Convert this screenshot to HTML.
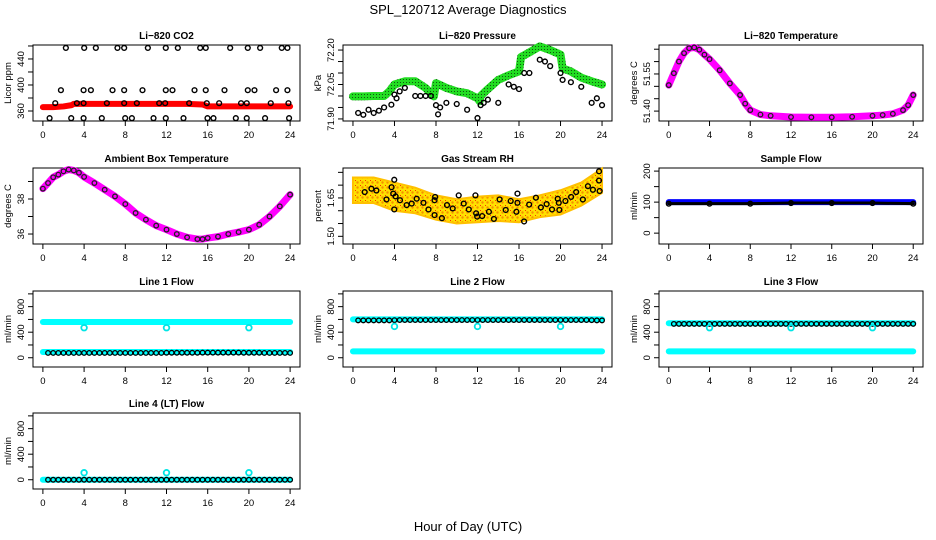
<!DOCTYPE html>
<html><head><meta charset="utf-8">
<style>
body{margin:0;background:#fff;}
svg{display:block;font-family:"Liberation Sans",sans-serif;}
</style></head>
<body>
<svg id="chart" width="936" height="540" viewBox="0 0 936 540" xmlns="http://www.w3.org/2000/svg">
<defs>
<pattern id="rhpat" width="5" height="5" patternUnits="userSpaceOnUse">
<rect width="5" height="5" fill="#ffe000"/><circle cx="2.5" cy="2.5" r="1.2" fill="#f59000"/><rect x="0" y="0" width="1" height="1" fill="#ff3000"/>
</pattern>
<pattern id="grpat" width="3" height="3" patternUnits="userSpaceOnUse">
<rect width="3" height="3" fill="#22dd22"/><rect x="1" y="1" width="1" height="1" fill="#115511"/>
</pattern>
</defs>
<text x="468" y="14" text-anchor="middle" font-size="13">SPL_120712  Average Diagnostics</text>
<text x="468" y="531" text-anchor="middle" font-size="13">Hour of Day (UTC)</text>
</svg>
<script>
// ---- data ----
const xTicks = [0,4,8,12,16,20,24];
// CO2
const co2RedHours = [0,1,2,2.8,3,4,6,8,10,12,14,15.5,16,18,20,22,24];
const co2RedVals  = [366,366,367,369,371,371,371,371,371,371,371,370,367,367,367,367,367];
const co2HiHours  = [2.23,4.01,5.14,7.24,7.89,10.19,11.93,13.1,15.27,15.81,18.18,19.89,21.09,23.19,23.74];
const co2HiVals   = [457,457,457,457,457,457,457,457,457,457,457,457,457,457,457];
const co2MidHours = [1.75,3.95,4.66,6.76,7.89,9.67,11.93,12.58,14.72,15.81,17.63,19.89,20.54,22.64,23.74];
const co2MidVals  = [392,392,392,392,392,392,392,392,392,392,392,392,392,392,392];
const co2LowHours = [1.2,3.3,3.95,6.21,7.89,9.12,11.29,11.87,14.2,15.91,17.11,19.24,19.79,22.12,23.84];
const co2LowVals  = [372,372,372,372,372,372,372,372,372,372,372,372,372,372,372];
const co2BotHours = [0.65,2.75,3.95,5.72,7.99,8.64,10.74,11.93,13.65,15.98,16.56,18.73,19.79,21.57,23.9];
const co2BotVals  = [349,349,349,349,349,349,349,349,349,349,349,349,349,349,349];
// Pressure
const prGreenHours = [0,1,2,3,3.5,4,5,6,7,7.8,8,9,10,11,12,12.2,12.3,13,14,15,16,16.2,17,18,19,20,20.2,21,22,23,24];
const prGreenVals  = [71.998,71.998,72.0,72.0,72.02,72.05,72.064,72.064,72.035,71.998,72.056,72.035,72.02,72.012,71.99,71.977,72.0,72.03,72.07,72.09,72.107,72.17,72.19,72.216,72.2,72.18,72.12,72.107,72.08,72.064,72.05];
const prBlackHours = [0.5,1,1.5,2,2.5,3,3.7,4,4.2,4.5,5,6,6.5,7,7.5,8,8.2,8.4,9,10,11,12,12.3,12.6,13,14,15,15.5,16,16.5,17,18,18.5,19,20,20.2,21,22,23,23.5,24];
const prBlackVals  = [71.926,71.918,71.94,71.926,71.936,71.95,71.962,72.006,71.99,72.02,72.035,72.0,72.0,72.0,72.0,71.96,71.92,71.95,71.97,71.965,71.94,71.904,71.96,71.97,71.984,71.97,72.05,72.04,72.03,72.1,72.1,72.158,72.15,72.13,72.1,72.07,72.06,72.04,71.97,71.99,71.96];
// Li-820 temperature
const ltHours = [0,0.5,1,1.5,2,2.5,3,3.5,4,5,6,7,7.5,8,9,10,12,14,16,18,20,21,22,23,23.5,24];
const ltVals  = [51.505,51.553,51.60,51.634,51.654,51.657,51.648,51.628,51.61,51.565,51.512,51.465,51.43,51.404,51.386,51.381,51.376,51.375,51.375,51.377,51.381,51.384,51.389,51.404,51.424,51.465];
// Ambient box temperature
const abHours = [0,0.5,1,1.5,2,2.5,3,3.5,4,5,6,7,8,9,10,11,12,13,14,15,15.5,16,17,18,19,20,21,22,23,24];
const abVals  = [38.59,38.91,39.24,39.39,39.58,39.68,39.63,39.5,39.26,38.91,38.53,38.15,37.71,37.2,36.82,36.48,36.25,36.0,35.81,35.71,35.71,35.77,35.85,36.0,36.11,36.25,36.53,37.0,37.58,38.25];
// Gas stream RH
const rhBandHours = [0,2,4,6,8,10,12,14,16,18,20,22,24];
const rhBandHigh  = [1.73,1.73,1.71,1.69,1.66,1.645,1.655,1.66,1.645,1.66,1.68,1.71,1.765];
const rhBandLow   = [1.63,1.63,1.60,1.59,1.565,1.55,1.555,1.56,1.555,1.575,1.585,1.62,1.67];
const rhBlackHours = [1.13,1.78,2.26,3.23,3.72,3.98,3.88,4.11,3.98,4.53,5.17,5.66,6.14,6.79,7.28,7.86,7.92,7.86,8.57,9.06,9.61,10.19,10.67,11.16,11.8,11.87,11.97,12.45,13.1,13.58,14.13,14.72,15.2,15.75,15.85,15.85,16.49,16.98,17.63,18.11,18.66,19.18,19.73,19.83,19.89,20.47,21.02,21.51,22.15,22.64,23.12,23.71,23.71,23.77];
const rhBlackVals  = [1.673,1.686,1.679,1.644,1.692,1.721,1.667,1.656,1.605,1.641,1.622,1.628,1.647,1.631,1.605,1.641,1.654,1.583,1.571,1.622,1.609,1.660,1.628,1.605,1.660,1.590,1.577,1.579,1.596,1.568,1.644,1.603,1.638,1.596,1.667,1.631,1.558,1.624,1.651,1.613,1.626,1.605,1.647,1.631,1.603,1.638,1.654,1.673,1.644,1.696,1.682,1.754,1.718,1.677];
// Sample flow
const sfHours = [0,4,8,12,16,20,24];
const sfBlue  = [100,100,100,100,100,100,100];
const sfBlack = [95,95,95,97,97,97,95];
// Line flows
const flowHours = [0,2,4,6,8,10,12,14,16,18,20,22,24];
const blackHours = [0.5,1,1.5,2,2.5,3,3.5,4,4.5,5,5.5,6,6.5,7,7.5,8,8.5,9,9.5,10,10.5,11,11.5,12,12.5,13,13.5,14,14.5,15,15.5,16,16.5,17,17.5,18,18.5,19,19.5,20,20.5,21,21.5,22,22.5,23,23.5,24];
const flowOutHours = [4,12,20];
const l1CyanHigh = [560,560,560,560,560,560,560,560,560,560,560,560,560];
const l1CyanLow  = [90,90,90,90,90,90,90,90,90,90,90,90,90];
const l1Black    = [75,75,75,75,75,75,75,75,75,75,75,75,75,75,75,75,75,75,75,75,75,75,75,78,78,78,78,78,78,78,80,80,80,80,80,80,80,80,78,78,78,78,75,75,75,75,75,75];
const l1Out      = [470,470,470];
const l2CyanHigh = [600,600,600,600,600,600,600,600,600,600,600,600,600];
const l2CyanLow  = [100,100,100,100,100,100,100,100,100,100,100,100,100];
const l2Black    = [585,585,585,585,585,585,585,588,590,590,590,590,590,590,590,590,590,590,590,590,590,590,590,590,590,590,590,590,590,590,590,590,590,590,590,590,590,590,590,590,590,590,590,590,590,588,585,585];
const l2Out      = [490,490,490];
const l3CyanHigh = [540,540,540,540,540,540,540,540,540,540,540,540,540];
const l3CyanLow  = [100,100,100,100,100,100,100,100,100,100,100,100,100];
const l3Black    = [530,530,530,530,530,530,530,530,530,530,530,530,530,530,530,530,530,530,530,530,530,530,530,530,530,530,530,530,530,530,530,530,530,530,530,530,530,530,530,530,530,530,530,530,530,530,530,530];
const l3Out      = [470,470,470];
const l4Cyan     = [0,0,0,0,0,0,0,0,0,0,0,0,0];
const l4Black    = [0,0,0,0,0,0,0,0,0,0,0,0,0,0,0,0,0,0,0,0,0,0,0,0,0,0,0,0,0,0,0,0,0,0,0,0,0,0,0,0,0,0,0,0,0,0,0,0];
const l4Out      = [110,110,110];

// ---- drawing ----
const svg = document.getElementById('chart');
const NS = 'http://www.w3.org/2000/svg';
function mk(tag, attrs, parent){
  const e = document.createElementNS(NS, tag);
  for (const k in attrs) e.setAttribute(k, attrs[k]);
  (parent||svg).appendChild(e);
  return e;
}
const cols = [{l:33,r:300},{l:343,r:612},{l:659,r:923}];
const rows = [45,168,291,413];
const H = 76;
function panel(name, c, r, ymin, ymax, ticks, labels, ylab, title){
  const L = cols[c].l, R = cols[c].r, T = rows[r], B = T + H;
  const span = (R - L) / 1.08;
  const x0 = L + (R - L - span) / 2;
  const g = mk('g', {});
  
  
  const p = {g, L, R, T, B,
    x: h => x0 + h / 24 * span,
    y: v => T + (ymax - v) / (ymax - ymin) * H};
  const t = mk('text', {x:(L+R)/2, y:T-6, 'text-anchor':'middle', 'font-size':10, 'font-weight':'bold'}, g);
  t.textContent = title;
  
  
  const box = mk('rect', {x:L, y:T, width:R-L, height:H, fill:'none', stroke:'#000', 'stroke-width':1}, g);
  
  
  const xa = mk('g', {}, g);
  
  
  xTicks.forEach(h => {
    mk('line', {x1:p.x(h), x2:p.x(h), y1:B, y2:B+5, stroke:'#000'}, xa);
    const tl = mk('text', {x:p.x(h), y:B+17, 'text-anchor':'middle', 'font-size':9.5}, xa);
    tl.textContent = h;
  });
  const ya = mk('g', {}, g);
  
  
  ticks.forEach(v => { mk('line', {x1:L-5, x2:L, y1:p.y(v), y2:p.y(v), stroke:'#000'}, ya); });
  labels.forEach(v => {
    const tl = mk('text', {x:L-9, y:p.y(v), 'text-anchor':'middle', 'font-size':9.5, transform:`rotate(-90 ${L-9} ${p.y(v)})`}, ya);
    tl.textContent = v;
  });
  const yl = mk('text', {x:L-22, y:(T+B)/2, 'text-anchor':'middle', 'font-size':9.5, transform:`rotate(-90 ${L-22} ${(T+B)/2})`}, g);
  yl.textContent = ylab;
  
  
  return p;
}
function band(p, hs, vs, color, w, name){
  const pts = hs.map((h,i)=>p.x(h)+','+p.y(vs[i])).join(' ');
  const e = mk('polyline', {points:pts, fill:'none', stroke:color, 'stroke-width':w, 'stroke-linejoin':'round', 'stroke-linecap':'round'}, p.g);
  
  
}
function pts(p, hs, vs, color, name, r, sw){
  const g = mk('g', {}, p.g);
  
  
  hs.forEach((h,i)=>{ mk('circle', {cx:p.x(h), cy:p.y(vs[i]), r:r||2.4, fill:'none', stroke:color, 'stroke-width':sw||1.4}, g); });
}

// Panel 1: CO2
let p = panel('co2', 0, 0, 344.6, 461.5, [360,380,400,420,440,460], ['360','400','440'], 'Licor ppm', 'Li\u2212820 CO2');
band(p, co2RedHours, co2RedVals, '#ff0000', 6, 'co2-red-series');
pts(p, co2HiHours, co2HiVals, '#000', 'co2-points-high');
pts(p, co2MidHours, co2MidVals, '#000', 'co2-points-mid');
pts(p, co2LowHours, co2LowVals, '#000', 'co2-points-low');
pts(p, co2BotHours, co2BotVals, '#000', 'co2-points-bottom');

// Panel 2: Pressure
p = panel('pressure', 1, 0, 71.891, 72.222, [71.90,71.95,72.00,72.05,72.10,72.15,72.20], ['71.90','72.05','72.20'], 'kPa', 'Li\u2212820 Pressure');
band(p, prGreenHours, prGreenVals, 'url(#grpat)', 8, 'pressure-green-series');
pts(p, prBlackHours, prBlackVals, '#000', 'pressure-black-points');

// Panel 3: Li-820 temperature
p = panel('li820-temp', 2, 0, 51.36, 51.667, [51.40,51.45,51.50,51.55,51.60,51.65], ['51.40','51.55'], 'degrees C', 'Li\u2212820 Temperature');
band(p, ltHours, ltVals, '#ff00ff', 7, 'li820-temp-magenta-series');
pts(p, ltHours, ltVals, '#222', 'li820-temp-black-points', 2.3, 1.3);

// Panel 4: Ambient box temperature
p = panel('ambient-temp', 0, 1, 35.43, 39.77, [36,37,38,39], ['36','38'], 'degrees C', 'Ambient Box Temperature');
band(p, abHours, abVals, '#ff00ff', 7, 'ambient-temp-magenta-series');
pts(p, abHours, abVals, '#222', 'ambient-temp-black-points', 2.3, 1.3);

// Panel 5: Gas stream RH
p = panel('gas-rh', 1, 1, 1.47, 1.767, [1.50,1.55,1.60,1.65,1.70,1.75], ['1.50','1.65'], 'percent', 'Gas Stream RH');
{
  const up = rhBandHours.map((h,i)=>p.x(h)+','+p.y(rhBandHigh[i]));
  const dn = rhBandHours.map((h,i)=>p.x(h)+','+p.y(rhBandLow[i])).reverse();
  const e = mk('polygon', {points:up.concat(dn).join(' '), fill:'url(#rhpat)', stroke:'#ffc000', 'stroke-width':2}, p.g);
  
  
}
pts(p, rhBlackHours, rhBlackVals, '#000', 'gas-rh-black-points');

// Panel 6: Sample flow
p = panel('sample-flow', 2, 1, -35, 210, [0,50,100,150,200], ['0','100','200'], 'ml/min', 'Sample Flow');
band(p, sfHours, sfBlue, '#0000ff', 6, 'sample-flow-blue-series');
band(p, sfHours, sfBlack, '#000', 3, 'sample-flow-black-series');
pts(p, sfHours, sfBlack, '#000', 'sample-flow-black-points');

const fTicks = [0,200,400,600,800,1000], fLabels = ['0','400','800'];
// Line 1
p = panel('line1-flow', 0, 2, -145, 1045, fTicks, fLabels, 'ml/min', 'Line 1 Flow');
band(p, flowHours, l1CyanHigh, '#00ffff', 6, 'line1-cyan-high');
band(p, flowHours, l1CyanLow, '#00ffff', 6, 'line1-cyan-low');
pts(p, blackHours, l1Black, '#000', 'line1-black-points', 2.3, 1.3);
pts(p, flowOutHours, l1Out, '#00e5e5', 'line1-cyan-outliers', 2.8, 1.8);
// Line 2
p = panel('line2-flow', 1, 2, -145, 1045, fTicks, fLabels, 'ml/min', 'Line 2 Flow');
band(p, flowHours, l2CyanHigh, '#00ffff', 6, 'line2-cyan-high');
band(p, flowHours, l2CyanLow, '#00ffff', 6, 'line2-cyan-low');
pts(p, blackHours, l2Black, '#000', 'line2-black-points', 2.3, 1.3);
pts(p, flowOutHours, l2Out, '#00e5e5', 'line2-cyan-outliers', 2.8, 1.8);
// Line 3
p = panel('line3-flow', 2, 2, -145, 1045, fTicks, fLabels, 'ml/min', 'Line 3 Flow');
band(p, flowHours, l3CyanHigh, '#00ffff', 6, 'line3-cyan-high');
band(p, flowHours, l3CyanLow, '#00ffff', 6, 'line3-cyan-low');
pts(p, blackHours, l3Black, '#000', 'line3-black-points', 2.3, 1.3);
pts(p, flowOutHours, l3Out, '#00e5e5', 'line3-cyan-outliers', 2.8, 1.8);
// Line 4
p = panel('line4-flow', 0, 3, -145, 1045, fTicks, fLabels, 'ml/min', 'Line 4 (LT) Flow');
band(p, flowHours, l4Cyan, '#00ffff', 6, 'line4-cyan-series');
pts(p, blackHours, l4Black, '#000', 'line4-black-points', 2.3, 1.3);
pts(p, flowOutHours, l4Out, '#00e5e5', 'line4-cyan-outliers', 2.8, 1.8);
</script>
</body></html>
